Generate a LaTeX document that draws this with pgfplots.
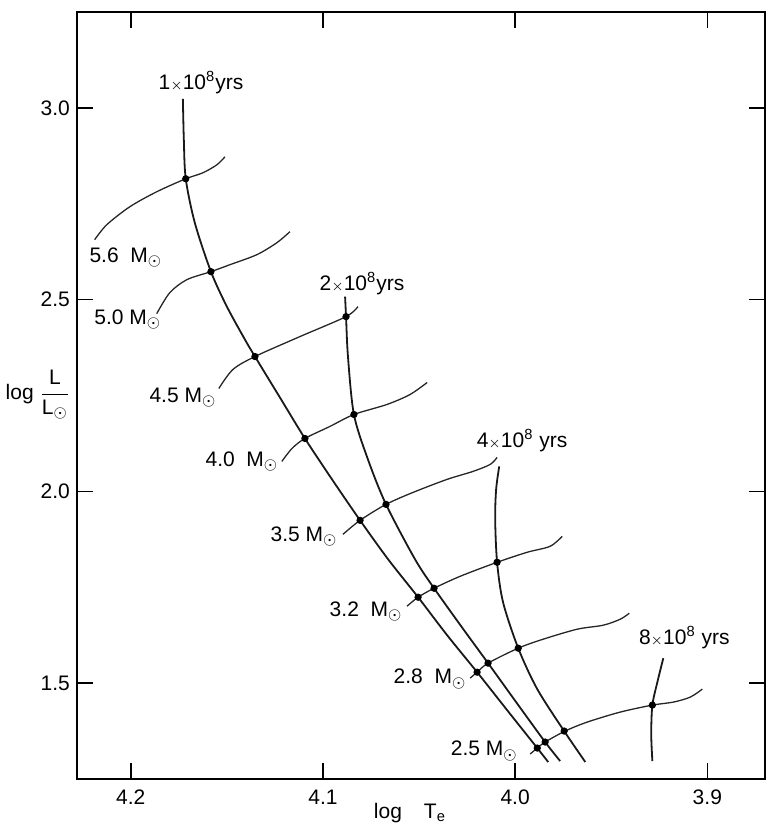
\documentclass[border=0pt]{standalone}
\usepackage{fontspec}
\setmainfont{Liberation Sans}
\usepackage{pgfplots}
\pgfplotsset{compat=1.18}
\newcommand{\sun}{$_{\mbox{\footnotesize$\odot$}}$}
\begin{document}
\begin{tikzpicture}
\begin{axis}[
  width=344pt, height=383.5pt, scale only axis,
  x dir=reverse,
  xmin=3.870, xmax=4.228, ymin=1.25, ymax=3.25,
  xtick={3.9,4.0,4.1,4.2}, xticklabels={3.9,4.0,4.1,4.2},
  ytick={1.5,2.0,2.5,3.0}, yticklabels={1.5,2.0,2.5,3.0},
  tick align=inside, major tick length=8pt,
  tick style={line width=0.8pt, black},
  axis line style={line width=0.9pt, black},
  ticklabel style={font=\fontsize{10.5}{12}\selectfont},
  xticklabel style={yshift=-2pt},
  clip=false,
  iso/.style={line width=0.9pt, black!90, smooth, no markers},
  trk/.style={line width=0.65pt, black!85, smooth, no markers},
]
% isochrones
\addplot[iso] coordinates {(4.1729,3.0234) (4.1724,2.9167) (4.1714,2.8151) (4.1667,2.7005) (4.1583,2.5729) (4.1500,2.4818) (4.1406,2.3958) (4.1354,2.3516) (4.1224,2.2448) (4.1094,2.1380) (4.0953,2.0313) (4.0807,1.9245) (4.0661,1.8229) (4.0505,1.7240) (4.0354,1.6250) (4.0198,1.5286) (4.0042,1.4297) (3.9885,1.3307) (3.9828,1.2943)};
\addplot[iso] coordinates {(4.0885,2.5078) (4.0880,2.4557) (4.0870,2.3516) (4.0839,2.2005) (4.0766,2.0833) (4.0672,1.9661) (4.0521,1.8229) (4.0422,1.7474) (4.0281,1.6484) (4.0141,1.5521) (3.9995,1.4505) (3.9844,1.3464) (3.9766,1.2969)};
\addplot[iso] coordinates {(4.0083,2.0651) (4.0099,2.0052) (4.0104,1.9271) (4.0094,1.8151) (4.0063,1.7109) (3.9984,1.5911) (3.9885,1.4844) (3.9745,1.3750) (3.9635,1.2943)};
\addplot[iso] coordinates {(3.9229,1.5651) (3.9260,1.5026) (3.9286,1.4427) (3.9292,1.3672) (3.9286,1.2969)};
% mass tracks
\addplot[trk] coordinates {(4.2188,2.6563) (4.2125,2.6953) (4.2005,2.7422) (4.1865,2.7813) (4.1714,2.8151) (4.1625,2.8307) (4.1552,2.8516) (4.1510,2.8724)};
\addplot[trk] coordinates {(4.1865,2.4635) (4.1797,2.5182) (4.1708,2.5521) (4.1583,2.5729) (4.1484,2.5911) (4.1344,2.6172) (4.1240,2.6484) (4.1172,2.6771)};
\addplot[trk] coordinates {(4.1542,2.2682) (4.1469,2.3177) (4.1354,2.3516) (4.1120,2.4036) (4.0880,2.4557) (4.0818,2.4818)};
\addplot[trk] coordinates {(4.1214,2.0781) (4.1161,2.1120) (4.1094,2.1380) (4.0964,2.1693) (4.0839,2.2005) (4.0667,2.2266) (4.0547,2.2526) (4.0458,2.2839)};
\addplot[trk] coordinates {(4.0896,1.8880) (4.0807,1.9245) (4.0672,1.9661) (4.0531,1.9974) (4.0354,2.0313) (4.0219,2.0521) (4.0130,2.0703) (4.0094,2.0885)};
\addplot[trk] coordinates {(4.0563,1.7005) (4.0505,1.7240) (4.0422,1.7474) (4.0286,1.7786) (4.0094,1.8151) (3.9938,1.8411) (3.9818,1.8568) (3.9755,1.8828)};
\addplot[trk] coordinates {(4.0234,1.5130) (4.0198,1.5286) (4.0141,1.5521) (3.9984,1.5911) (3.9854,1.6146) (3.9677,1.6406) (3.9542,1.6510) (3.9453,1.6667) (3.9406,1.6823)};
\addplot[trk] coordinates {(3.9922,1.3151) (3.9885,1.3307) (3.9844,1.3464) (3.9740,1.3750) (3.9625,1.3984) (3.9453,1.4245) (3.9286,1.4427) (3.9177,1.4505) (3.9089,1.4635) (3.9026,1.4844)};
% intersection dots
\addplot[only marks, mark=*, mark size=1.6pt, black] coordinates {
 (4.1714,2.8151) (4.1583,2.5729) (4.1354,2.3516) (4.1094,2.1380) (4.0807,1.9245) (4.0505,1.7240) (4.0198,1.5286) (3.9885,1.3307)
 (4.0880,2.4557) (4.0839,2.2005) (4.0672,1.9661) (4.0422,1.7474) (4.0141,1.5521) (3.9844,1.3464)
 (4.0094,1.8151) (3.9984,1.5911) (3.9745,1.3750)
 (3.9286,1.4427)};
% labels
\begin{scope}[every node/.style={font=\fontsize{10.5}{12}\selectfont, inner sep=0pt}]
\node at (axis cs:4.1635,3.0651) {1{\scriptsize$\times$}10\textsuperscript{8}yrs};
\node at (axis cs:4.0797,2.5417) {2{\scriptsize$\times$}10\textsuperscript{8}yrs};
\node at (axis cs:3.9964,2.1328) {4{\scriptsize$\times$}10\textsuperscript{8} yrs};
\node at (axis cs:3.9120,1.6198) {8{\scriptsize$\times$}10\textsuperscript{8} yrs};
\node at (axis cs:4.2026,2.6094) {5.6~~M\sun};
\node at (axis cs:4.2016,2.4479) {5.0 M\sun};
\node at (axis cs:4.1729,2.2448) {4.5 M\sun};
\node at (axis cs:4.1422,2.0781) {4.0~~M\sun};
\node at (axis cs:4.1099,1.8828) {3.5 M\sun};
\node at (axis cs:4.0776,1.6875) {3.2~~M\sun};
\node at (axis cs:4.0443,1.5104) {2.8~~M\sun};
\node at (axis cs:4.0161,1.3229) {2.5 M\sun};
\node at (rel axis cs:-0.0567,0.5007) {log $\displaystyle\frac{\mbox{L}}{\mbox{L}_{\mbox{\footnotesize$\odot$}}}$};
\node at (rel axis cs:0.484,-0.0443) {log\hspace{11pt}T\textsubscript{e}};
\end{scope}
\end{axis}
\pgfresetboundingbox
\path[use as bounding box] ([shift={(-38.5pt,-25.5pt)}]current axis.south west) rectangle ([shift={(3pt,6pt)}]current axis.north east);
\end{tikzpicture}
\end{document}
